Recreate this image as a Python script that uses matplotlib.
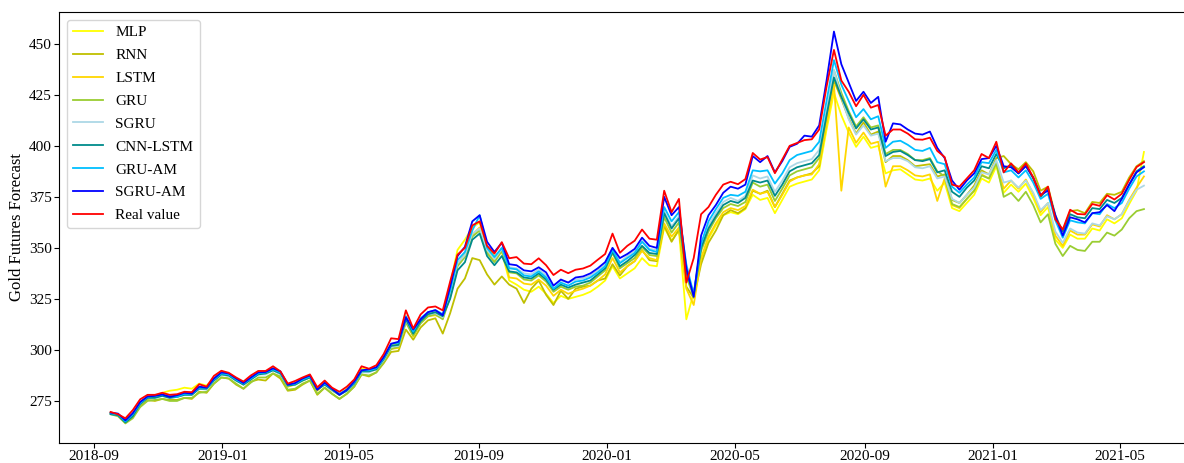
import pandas as pd
import matplotlib
matplotlib.use('Agg')
import matplotlib.pyplot as plt
import matplotlib.dates as mdates
from matplotlib.ticker import MultipleLocator

plt.rcParams['font.family'] = ['Liberation Serif', 'DejaVu Serif']

# weekly samples, 2018-09-17 .. 2021-05-24
dates = pd.date_range('2018-09-17', periods=141, freq='7D')

real = [269.6, 268.5, 266.5, 270.5, 275.8, 278.0, 278.0, 279.0, 278.0, 278.3,
        279.5, 279.3, 283.2, 282.0, 287.3, 289.8, 288.8, 286.5, 284.5, 287.5,
        289.7, 289.7, 292.0, 289.5, 283.5, 284.8, 286.5, 288.0, 281.7, 285.0,
        281.5, 279.5, 282.0, 285.5, 292.0, 290.8, 292.5, 298.0, 305.7, 305.3,
        319.4, 310.5, 317.4, 320.8, 321.3, 319.4, 333.5, 346.7, 350.0, 361.0,
        363.0, 351.0, 347.2, 352.8, 344.9, 345.5, 342.3, 342.0, 344.9, 341.5,
        336.7, 339.3, 337.6, 339.3, 339.9, 341.3, 344.2, 347.0, 357.0, 347.6,
        351.0, 353.5, 359.0, 354.5, 354.0, 378.0, 367.5, 374.0, 333.0, 345.0,
        366.5, 370.0, 376.0, 381.0, 382.4, 381.2, 383.7, 396.5, 393.3, 394.5,
        386.6, 393.3, 400.0, 401.4, 402.8, 403.2, 408.0, 429.0, 447.0, 432.0,
        426.5, 419.4, 425.0, 418.7, 420.0, 405.0, 408.0, 408.0, 406.0, 403.2,
        403.0, 404.0, 397.5, 394.5, 381.0, 380.0, 384.0, 388.0, 396.0, 394.0,
        402.0, 387.0, 391.4, 387.0, 391.4, 384.5, 375.5, 380.0, 364.0, 359.0,
        368.7, 366.6, 366.4, 371.5, 370.6, 375.8, 373.7, 376.5, 383.3, 389.6,
        392.0]

sgru_am = [269.3, 268.8, 265.5, 269.0, 274.5, 277.2, 277.5, 278.2, 277.0, 277.8,
           279.0, 278.6, 282.0, 281.5, 286.0, 289.0, 288.5, 286.0, 283.8, 286.5,
           289.0, 289.2, 291.0, 289.5, 283.0, 283.8, 286.0, 287.5, 280.5, 284.0,
           281.0, 278.0, 280.5, 284.5, 290.0, 290.5, 291.5, 296.5, 303.0, 304.0,
           316.0, 310.0, 315.0, 318.5, 319.5, 317.0, 331.0, 346.0, 350.5, 363.0,
           366.0, 353.0, 348.0, 352.5, 342.0, 341.5, 339.0, 338.5, 340.5, 338.0,
           331.5, 334.5, 333.0, 335.5, 336.0, 337.5, 340.0, 343.0, 350.0, 345.0,
           347.0, 349.5, 355.0, 351.0, 350.0, 375.0, 366.0, 370.0, 340.0, 326.0,
           356.0, 366.0, 371.0, 377.0, 380.0, 379.0, 381.0, 395.0, 392.0, 395.0,
           387.0, 392.5, 399.5, 401.0, 405.0, 404.5, 410.0, 432.0, 456.0, 440.0,
           431.0, 422.0, 426.5, 421.0, 424.0, 402.0, 411.0, 410.5, 408.0, 406.0,
           405.5, 407.0, 399.0, 394.0, 383.0, 378.5, 383.0, 386.5, 393.5, 394.0,
           400.0, 390.0, 389.5, 386.5, 390.0, 384.5, 376.0, 378.0, 366.0, 356.0,
           365.0, 364.0, 362.5, 367.0, 367.5, 371.0, 368.0, 374.0, 381.0, 387.0,
           389.5]

gru_am = [269.0, 268.5, 265.0, 268.5, 274.0, 277.0, 277.5, 278.0, 277.5, 277.0,
          278.5, 278.5, 281.5, 281.5, 285.5, 288.5, 288.0, 285.5, 283.5, 286.0,
          288.5, 289.0, 290.5, 289.0, 283.0, 283.5, 285.5, 287.0, 281.0, 283.5,
          281.0, 278.5, 280.5, 284.0, 290.0, 290.0, 291.0, 296.0, 303.0, 303.5,
          316.5, 309.0, 315.5, 318.5, 319.5, 317.5, 329.0, 344.0, 348.0, 358.5,
          366.0, 350.0, 345.5, 350.0, 340.0, 339.5, 336.5, 336.0, 338.5, 335.5,
          330.0, 333.0, 331.5, 333.5, 334.0, 335.5, 338.0, 341.0, 349.0, 342.5,
          345.0, 347.5, 353.0, 349.0, 348.0, 370.0, 363.0, 367.5, 342.0, 327.0,
          352.0, 363.0, 369.0, 374.5, 376.0, 375.5, 377.5, 388.0, 387.5, 388.0,
          381.5, 386.5, 393.0, 395.5, 396.5, 397.5, 402.0, 422.0, 442.0, 430.0,
          422.0, 414.0, 418.0, 413.0, 414.5, 399.0, 402.0, 402.5, 400.5, 398.0,
          397.5, 399.0, 392.0, 391.0, 380.0, 377.0, 381.0, 384.5, 392.0, 391.5,
          398.0, 387.0, 388.0, 384.5, 388.0, 382.0, 374.0, 376.5, 363.5, 355.0,
          363.5, 362.5, 362.0, 367.0, 366.5, 371.5, 369.5, 372.0, 379.0, 385.0,
          387.5]

cnn_lstm = [268.5, 268.0, 264.5, 267.5, 273.5, 276.5, 276.5, 277.5, 276.5, 277.0,
            278.0, 278.0, 281.0, 281.0, 285.0, 288.0, 287.5, 285.0, 283.0, 285.5,
            288.0, 288.5, 290.0, 288.5, 282.5, 283.0, 285.0, 286.5, 280.5, 283.0,
            280.5, 278.0, 280.0, 283.5, 289.5, 289.5, 290.5, 295.5, 302.0, 302.5,
            315.0, 308.0, 314.0, 317.5, 318.5, 316.5, 325.0, 339.0, 343.0, 354.0,
            357.0, 346.0, 341.5, 346.0, 338.5, 338.0, 335.5, 335.0, 337.5, 334.5,
            329.5, 332.0, 330.5, 332.0, 333.0, 334.0, 337.0, 340.0, 348.0, 341.0,
            343.5, 346.5, 351.0, 347.5, 347.0, 367.0, 359.5, 364.5, 338.0, 327.5,
            350.0, 359.5, 365.5, 371.0, 373.0, 372.0, 374.5, 383.0, 382.0, 383.0,
            375.5, 381.0, 387.5, 389.5, 390.5, 391.5, 395.5, 415.0, 433.5, 424.0,
            416.0, 408.5, 413.0, 408.0, 409.0, 395.0, 397.0, 397.5, 395.5, 393.0,
            392.5, 393.5, 387.0, 388.0, 377.5, 375.0, 379.5, 383.0, 390.0, 389.0,
            396.0, 389.0, 390.5, 386.5, 390.5, 384.0, 375.0, 379.0, 365.0, 358.0,
            366.5, 365.0, 364.5, 369.5, 369.0, 373.5, 372.0, 374.5, 381.0, 387.5,
            390.0]

sgru = [269.0, 268.0, 265.5, 268.0, 273.5, 276.5, 277.0, 277.5, 276.5, 277.0,
        278.0, 278.0, 281.0, 280.5, 285.0, 288.0, 287.0, 285.0, 283.0, 285.5,
        288.0, 288.0, 290.0, 288.0, 282.5, 283.0, 285.0, 286.5, 281.0, 283.0,
        280.0, 278.0, 280.0, 283.5, 289.0, 289.0, 290.5, 295.0, 301.5, 302.0,
        314.5, 308.5, 314.0, 317.5, 318.0, 316.0, 328.0, 342.5, 346.5, 357.0,
        359.5, 349.0, 344.5, 349.5, 340.5, 340.0, 337.5, 337.0, 339.5, 336.5,
        331.5, 334.0, 333.0, 334.5, 335.0, 336.5, 339.0, 342.0, 350.0, 343.0,
        346.0, 348.5, 353.5, 349.5, 349.0, 368.0, 360.5, 365.5, 339.0, 328.0,
        351.5, 361.0, 367.0, 372.5, 374.5, 373.0, 375.5, 385.5, 384.0, 385.0,
        377.5, 383.0, 389.5, 391.5, 392.5, 393.5, 398.0, 417.0, 437.0, 424.0,
        413.0, 405.5, 410.0, 405.0, 406.0, 392.5, 394.0, 394.0, 392.5, 389.5,
        389.0, 390.0, 384.0, 385.0, 374.0, 372.0, 376.0, 379.5, 387.0, 386.0,
        393.0, 382.0, 383.0, 379.5, 383.0, 377.0, 368.5, 372.0, 358.0, 352.5,
        359.5, 357.5, 357.0, 362.0, 361.0, 365.5, 364.0, 366.5, 373.0, 378.5,
        380.5]

gru = [268.5, 267.5, 264.0, 266.5, 272.0, 275.0, 275.5, 276.0, 275.0, 275.0,
       276.5, 276.5, 279.0, 279.5, 283.5, 286.5, 286.0, 283.5, 281.0, 284.0,
       286.5, 286.5, 288.5, 287.0, 280.5, 281.0, 283.5, 285.0, 278.5, 281.5,
       278.5, 276.0, 278.5, 282.0, 288.0, 287.5, 289.0, 294.0, 300.5, 301.5,
       313.5, 307.0, 313.0, 316.5, 317.5, 315.0, 326.0, 341.0, 345.5, 355.5,
       358.5, 347.5, 343.0, 348.5, 338.0, 337.5, 334.5, 334.0, 336.5, 333.5,
       328.5, 331.0, 329.5, 331.0, 331.5, 333.0, 336.0, 339.0, 347.5, 340.0,
       342.5, 345.0, 350.5, 346.5, 346.0, 365.0, 357.5, 362.5, 336.0, 326.0,
       348.5, 358.0, 364.5, 369.5, 371.5, 370.5, 372.5, 382.0, 380.0, 381.0,
       373.0, 379.0, 385.5, 387.5, 388.5, 389.5, 394.0, 415.0, 437.0, 426.0,
       417.0, 409.5, 414.0, 409.0, 410.0, 396.0, 398.0, 398.0, 396.0, 393.0,
       393.0, 394.0, 387.5, 385.0, 371.5, 370.0, 374.0, 378.0, 385.5, 384.0,
       391.5, 375.0, 377.0, 373.0, 377.5, 371.0, 362.5, 366.5, 352.0, 346.0,
       351.0, 349.0, 348.5, 353.0, 353.0, 357.5, 356.0, 359.0, 364.5, 368.0,
       369.0]

lstm = [269.0, 268.5, 265.5, 268.0, 274.0, 277.0, 277.0, 278.0, 277.5, 277.5,
        278.5, 278.5, 281.5, 281.0, 285.5, 288.5, 287.5, 285.5, 283.0, 286.0,
        288.0, 288.5, 290.5, 288.5, 282.0, 283.0, 285.0, 286.5, 280.0, 283.5,
        280.0, 278.0, 280.5, 284.0, 290.0, 289.5, 291.0, 296.0, 300.5, 301.0,
        314.0, 306.5, 313.5, 316.5, 317.0, 315.5, 327.0, 342.0, 347.0, 356.5,
        360.0, 348.0, 344.0, 349.5, 335.5, 335.0, 332.5, 332.0, 334.5, 331.5,
        326.5, 329.5, 327.5, 329.0, 330.0, 331.5, 334.0, 337.0, 345.0, 338.0,
        341.0, 343.5, 348.5, 345.0, 344.0, 362.0, 355.5, 360.0, 330.0, 322.0,
        345.0, 355.5, 362.0, 367.5, 369.5, 368.5, 370.5, 378.5, 376.5, 377.5,
        370.0, 376.0, 382.5, 384.5, 385.5, 386.0, 391.0, 411.0, 430.0, 378.0,
        409.0, 401.5, 406.5, 401.0, 402.0, 380.0, 390.0, 390.0, 388.0, 385.5,
        385.0, 386.0, 373.0, 384.0, 371.0, 369.5, 374.0, 378.0, 386.0, 384.0,
        392.0, 379.0, 383.0, 379.0, 383.5, 376.5, 367.5, 372.0, 356.0, 351.0,
        358.5, 356.5, 356.5, 361.5, 360.5, 366.0, 364.0, 366.5, 373.5, 379.5,
        385.0]

rnn = [269.0, 268.0, 265.0, 267.0, 272.5, 275.5, 275.0, 276.0, 275.5, 275.5,
       276.5, 276.0, 279.5, 279.0, 283.5, 286.5, 286.0, 283.0, 281.0, 284.5,
       285.5, 285.0, 288.5, 286.0, 280.0, 280.5, 283.0, 285.0, 278.0, 281.5,
       278.5, 276.0, 278.5, 282.0, 288.0, 287.0, 289.0, 293.5, 299.0, 299.5,
       310.0, 305.0, 311.0, 314.5, 315.5, 308.0, 318.0, 330.0, 335.0, 345.0,
       344.0, 337.0, 332.0, 336.0, 332.0, 330.0, 323.0, 330.0, 334.0, 327.0,
       322.0, 329.0, 325.0, 330.0, 331.0, 331.5, 334.0, 335.0, 342.0, 336.5,
       341.0, 343.5, 349.0, 344.0, 343.5, 361.0, 353.0, 359.0, 331.0, 325.5,
       342.0, 352.5, 358.5, 366.0, 368.5, 367.0, 369.5, 378.0, 376.5, 378.0,
       370.0, 376.5, 383.0, 384.5, 385.5, 386.5, 390.0, 412.0, 432.0, 423.0,
       413.5, 406.0, 411.5, 405.5, 407.0, 392.0, 395.0, 395.0, 393.0, 390.0,
       390.5, 391.0, 385.0, 386.0, 373.5, 372.0, 376.0, 380.5, 388.0, 386.0,
       394.0, 395.0, 391.0, 388.5, 392.0, 387.5, 378.0, 380.0, 366.0, 358.0,
       368.0, 368.5, 367.0, 372.5, 372.0, 376.5, 376.0, 377.5, 384.5, 390.0,
       392.5]

mlp = [269.5, 268.0, 266.0, 268.5, 274.5, 277.0, 277.5, 279.0, 280.0, 280.5,
       281.5, 281.0, 283.5, 282.5, 286.0, 289.0, 288.0, 285.5, 283.5, 286.0,
       288.5, 288.5, 291.0, 288.5, 282.0, 283.5, 285.0, 287.0, 280.5, 284.0,
       280.5, 278.0, 281.0, 284.5, 291.0, 290.0, 291.5, 296.5, 302.5, 303.0,
       316.5, 308.0, 314.5, 317.5, 318.5, 316.0, 332.0, 349.0, 354.0, 360.0,
       362.5, 350.5, 346.0, 348.0, 334.0, 332.0, 329.5, 328.5, 331.0, 327.5,
       323.0, 326.5, 325.0, 326.0, 327.0, 328.5, 331.0, 334.0, 341.0, 335.0,
       337.5, 340.0, 345.0, 341.5, 341.0, 360.0, 353.5, 358.5, 315.0, 328.0,
       344.0, 354.5, 361.0, 366.0, 367.5, 366.5, 369.0, 376.0, 373.5, 374.5,
       367.0, 373.5, 380.0, 381.5, 382.5, 383.5, 388.0, 408.0, 426.0, 415.0,
       406.5, 399.5, 404.5, 399.0, 400.0, 386.5, 388.0, 388.5, 386.0, 383.5,
       383.0, 384.0, 378.0, 382.0, 369.5, 368.0, 372.0, 376.0, 384.0, 382.0,
       390.0, 377.0, 381.0, 377.5, 381.5, 374.5, 366.0, 370.0, 354.0, 350.0,
       356.5, 354.5, 354.5, 359.5, 358.5, 364.0, 362.0, 364.5, 371.5, 378.0,
       397.0]

series = [
    ("MLP", mlp, "yellow"),
    ("RNN", rnn, "y"),
    ("LSTM", lstm, "gold"),
    ("GRU", gru, "yellowgreen"),
    ("SGRU", sgru, "lightblue"),
    ("CNN-LSTM", cnn_lstm, "darkcyan"),
    ("GRU-AM", gru_am, "deepskyblue"),
    ("SGRU-AM", sgru_am, "blue"),
    ("Real value", real, "red"),
]

fig = plt.figure(figsize=(11.84, 4.63), dpi=100)
ax = fig.add_axes([0.0498, 0.0432, 0.960, 0.931])

for name, vals, col in series:
    ax.plot(dates, vals, color=col, linewidth=1.3, label=name)

ax.xaxis.set_major_locator(mdates.MonthLocator(bymonth=[1, 5, 9]))
ax.xaxis.set_major_formatter(mdates.DateFormatter('%Y-%m'))
ax.yaxis.set_major_locator(MultipleLocator(25))
ax.tick_params(labelsize=11, length=3.5, pad=1.5)
ax.set_ylabel('Gold Futures Forecast', fontsize=12, labelpad=3)
ax.legend(loc='upper left', fontsize=11, labelspacing=0.6)

plt.savefig('out.png', dpi=100)
